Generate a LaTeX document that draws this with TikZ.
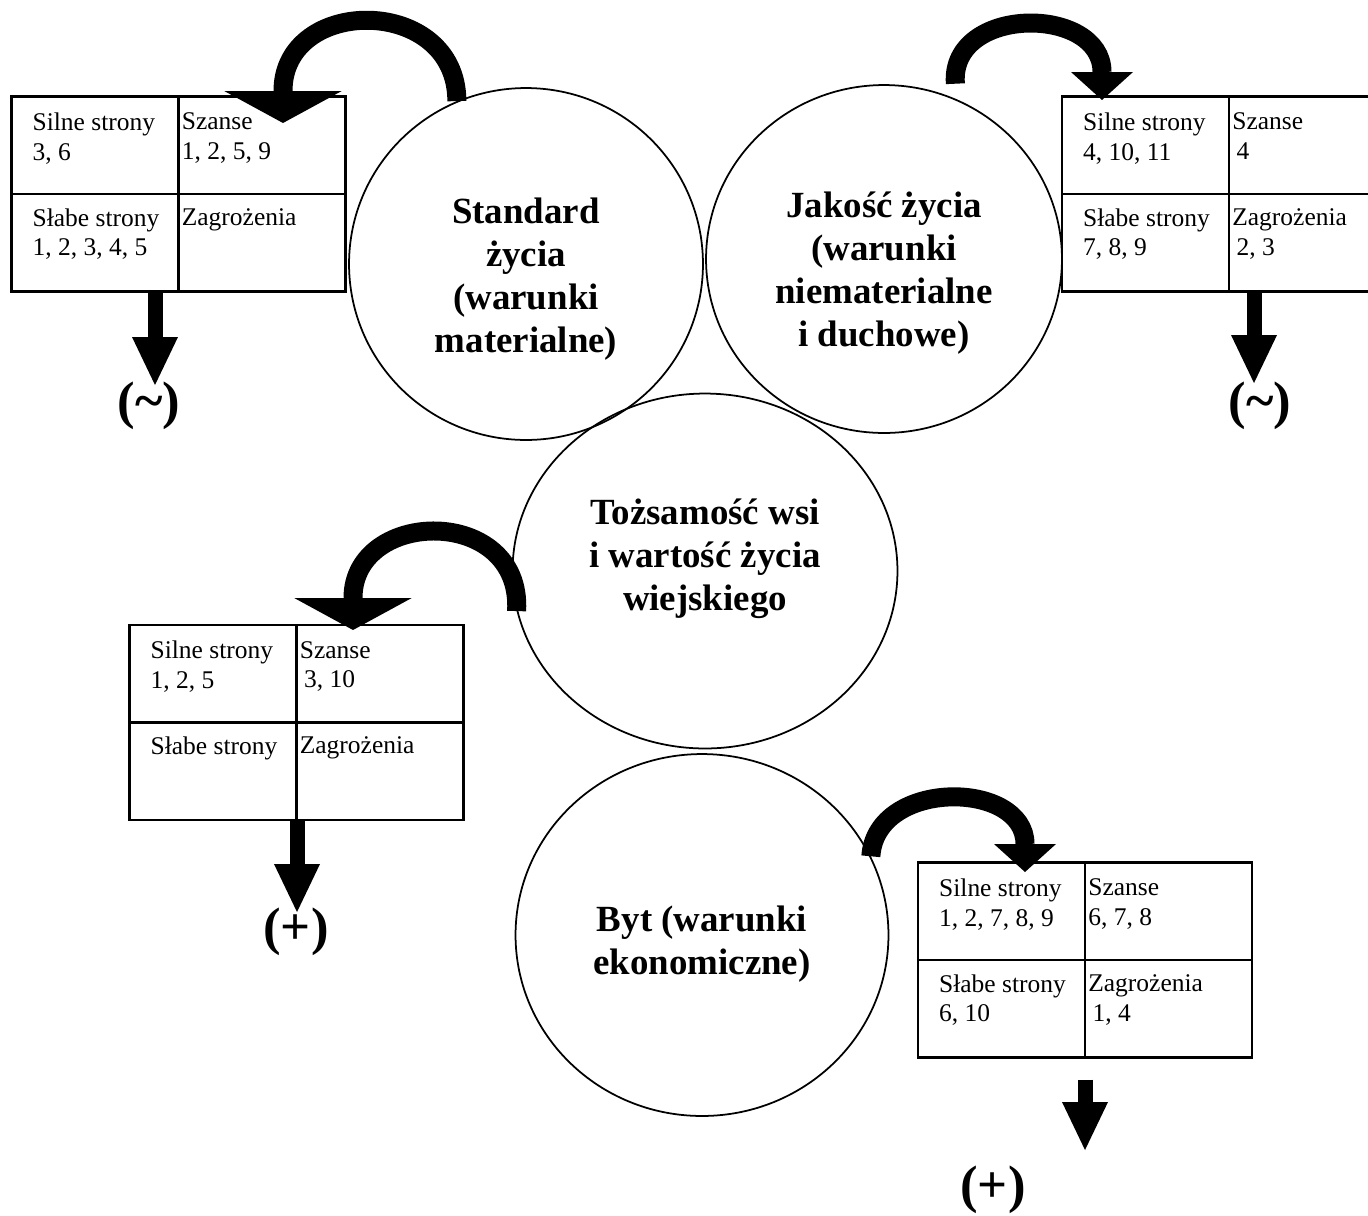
\documentclass[tikz,border=0pt]{standalone}
\usepackage{fontspec}
\setmainfont{Liberation Serif}
\usetikzlibrary{arrows.meta,calc,positioning,shapes.geometric}

% the four cells of one SWOT table: name, then the four texts
\newcommand{\swotcells}[5]{%
	\draw[divider] (#1.north) -- (#1.south) (#1.west) -- (#1.east);
	\node[cell] (#1_s) at ($(#1.north west)+(22,17)$) {#2};
	\node[cell] (#1_o) at ($(#1.north)+(3,17)$) {#3};
	\node[cell] (#1_w) at ($(#1.west)+(22,14)$) {#4};
	\node[cell] (#1_t) at ($(#1.center)+(3,14)$) {#5};
}

\begin{document}
\begin{tikzpicture}[x=0.02cm,y=-0.02cm,
		ring/.style={draw,ellipse,line width=1pt,inner sep=0pt},
		ringtext/.style={inner sep=0pt,align=center,font=\fontsize{21}{24.4}\selectfont\bfseries},
		swot/.style={draw,line width=1.4pt,minimum width=6.68cm,minimum height=3.9cm,inner sep=0pt},
		divider/.style={line width=1.4pt},
		cell/.style={anchor=north west,inner sep=0pt,align=left,font=\fontsize{14.5}{17}\selectfont},
		sign/.style={inner sep=0pt,font=\fontsize{30}{32}\selectfont\bfseries},
		swing/.style={line width=0.38cm,-{Triangle[width=1.24cm,length=0.56cm,line width=0pt]}},
		wideswing/.style={line width=0.38cm,-{Triangle[width=2.35cm,length=0.64cm,line width=0pt]}},
		drop/.style={line width=0.3cm,-{Triangle[width=0.92cm,length=0.96cm,line width=0pt]}}]
			\path[use as bounding box,fill=white] (0,0) rectangle (1368,1215);
			\clip (0,0) rectangle (1368,1215);
			% circles
			\node[ring,minimum width=7.08cm,minimum height=7.04cm] (std) at (526,264) {};
			\node[ring,minimum width=7.12cm,minimum height=6.96cm] (jak) at (884,259) {};
			\node[ring,minimum width=7.7cm,minimum height=7.1cm] (toz) at (705,571) {};
			\node[ring,minimum width=7.46cm,minimum height=7.24cm] (byt) at (702,935) {};
			\node[ringtext] (stdText) at ($(std)+(0,15)$) {Standard\\życia\\(warunki\\materialne)};
			\node[ringtext] (jakText) at ($(jak)+(0,14)$) {Jakość życia\\(warunki\\niematerialne\\i duchowe)};
			\node[ringtext] (tozText) at ($(toz)+(0,-12)$) {Tożsamość wsi\\i wartość życia\\wiejskiego};
			\node[ringtext] (bytText) at ($(byt)+(0,9)$) {Byt (warunki\\ekonomiczne)};
			% tables
			\node[swot] (tl) at (178.5,194) {};
			\swotcells{tl}{Silne strony\\3, 6}{Szanse\\1, 2, 5, 9}{Słabe strony\\1, 2, 3, 4, 5}{Zagrożenia}
			\node[swot] (tr) at (1229,194) {};
			\swotcells{tr}{Silne strony\\4, 10, 11}{Szanse\\\,4}{Słabe strony\\7, 8, 9}{Zagrożenia\\\,2, 3}
			\node[swot] (ml) at (296.5,722.5) {};
			\swotcells{ml}{Silne strony\\1, 2, 5}{Szanse\\\,3, 10}{Słabe strony}{Zagrożenia}
			\node[swot] (br) at (1085,960) {};
			\swotcells{br}{Silne strony\\1, 2, 7, 8, 9}{Szanse\\6, 7, 8}{Słabe strony\\6, 10}{Zagrożenia\\\,1, 4}
			% arrow ends
			\coordinate (tlIn) at (283,123);
			\coordinate (trIn) at (1102,100);
			\coordinate (mlIn) at (353,630);
			\coordinate (brIn) at (1025,872);
			\coordinate (tlOut) at (155,385);
			\coordinate (trOut) at (1254,383);
			\coordinate (mlOut) at (297,912);
			\coordinate (brOut) at (1085,1150);
			% curved arrows
			\draw[wideswing] (std.113) .. controls +(0,-106) and +(0,-128) .. (tlIn);
			\draw[swing] ([yshift=0.3cm]jak.66) .. controls +(-6,-79) and +(0,-95) .. (trIn);
			\draw[wideswing] (toz.192) .. controls +(6,-106) and +(0,-122) .. (mlIn);
			\draw[swing] (byt.25) .. controls +(5,-78) and +(0,-92) .. (brIn);
			% down arrows and signs
			\draw[drop] (tl.south -| tlOut) -- (tlOut);
			\draw[drop] (tr.south -| trOut) -- (trOut);
			\draw[drop] (ml.south -| mlOut) -- (mlOut);
			\draw[drop] ([yshift=-0.42cm]br.south) -- (brOut);
			\node[sign] (tlSign) at (149,406) {(\textasciitilde)};
			\node[sign] (trSign) at (1260,406) {(\textasciitilde)};
			\node[sign] (mlSign) at (296,932) {(+)};
			\node[sign] (brSign) at (993,1190) {(+)};
		\end{tikzpicture}
\end{document}
